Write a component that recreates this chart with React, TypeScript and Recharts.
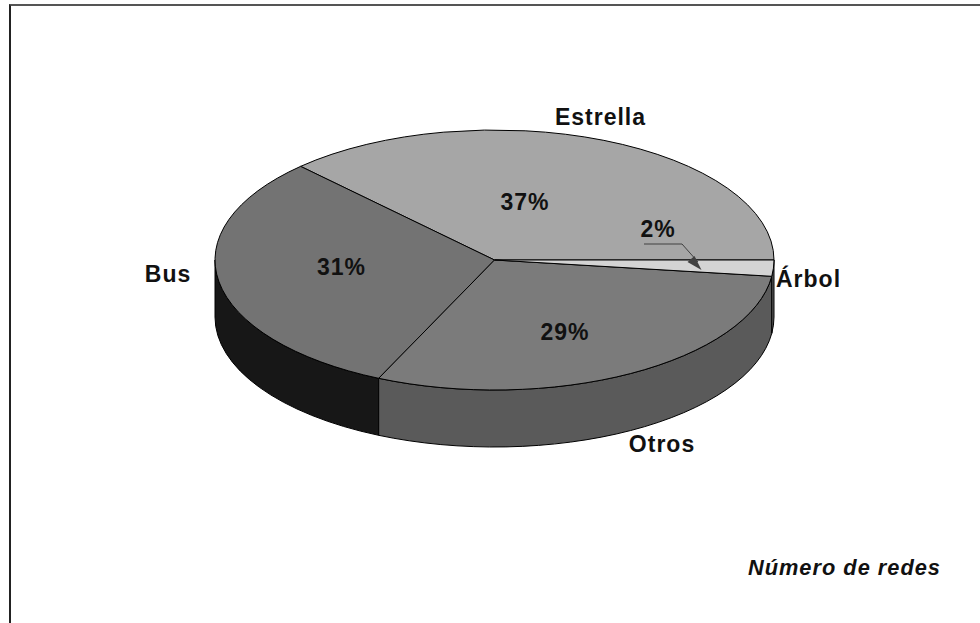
import React from "react";
import { PieChart, Pie } from "recharts";

const categories = ["Estrella", "Bus", "Otros", "Árbol"];
const shares = [37.2, 31.0, 29.8, 2.0];
const percentLabels = ["37%", "31%", "29%", "2%"];
const topColors = ["#a6a6a6", "#737373", "#7b7b7b", "#d4d4d4"];
const wallColors = ["#535353", "#171717", "#5a5a5a", "#5a5a5a"];
const caption = "Número de redes";

const WIDTH = 980;
const HEIGHT = 623;
const CX = 494.5;
const CY = 260;
const RX = 279.5;
const TILT = 130 / 279.5;
const DEPTH = 57;
const FONT = '"Liberation Sans", Arial, sans-serif';

// offsets of labels from the pie centre
const percentOffsets = [[30.5, -58], [-153, 7], [70.5, 72], [163.5, -31]];
const nameOffsets = [[106, -143.5], [-326.5, 14], [167.5, 184], [314, 19]];

const data = categories.map((name, i) => ({
  name,
  value: shares[i],
  fill: topColors[i],
  wall: wallColors[i],
}));

const rad = (a: number) => (a * Math.PI) / 180;

function Slice(props: any) {
  const { cx, cy, outerRadius, startAngle, endAngle, fill, wall } = props;
  const rx = outerRadius;
  const ry = outerRadius * TILT;
  const pt = (a: number, dy = 0) =>
    `${cx + rx * Math.cos(rad(a))} ${cy - ry * Math.sin(rad(a)) + dy}`;
  const lo = Math.min(startAngle, endAngle);
  const hi = Math.max(startAngle, endAngle);
  const large = hi - lo > 180 ? 1 : 0;
  const top = `M ${cx} ${cy} L ${pt(lo)} A ${rx} ${ry} 0 ${large} 0 ${pt(hi)} Z`;
  const wa = Math.max(lo, 180);
  const wb = Math.min(hi, 360);
  const side =
    wb > wa
      ? `M ${pt(wa)} A ${rx} ${ry} 0 0 0 ${pt(wb)} L ${pt(wb, DEPTH)} A ${rx} ${ry} 0 0 1 ${pt(wa, DEPTH)} Z`
      : null;
  return (
    <g>
      {side && <path d={side} fill={wall} stroke="#000" strokeWidth={1} />}
      <path d={top} fill={fill} stroke="#000" strokeWidth={1} />
    </g>
  );
}

function SliceLabel(props: any) {
  const { cx, cy, index, name } = props;
  const [px, py] = percentOffsets[index];
  const [nx, ny] = nameOffsets[index];
  const common = {
    fontFamily: FONT,
    fontWeight: 700,
    fontSize: 23,
    fill: "#111",
    textAnchor: "middle" as const,
    dominantBaseline: "central" as const,
    style: { letterSpacing: "1px" },
  };
  const isCallout = name === "Árbol";
  return (
    <g>
      {isCallout && (
        <g>
          <polyline
            points={`${cx + px - 14},${cy + py + 15} ${cx + px + 24},${cy + py + 15} ${cx + px + 40},${cy + py + 33}`}
            fill="none"
            stroke="#404040"
            strokeWidth={1}
          />
          <polygon
            points={`${cx + 207},${cy + 10} ${cx + 193},${cy + 2} ${cx + 200},${cy - 4}`}
            fill="#404040"
          />
        </g>
      )}
      <text x={cx + px} y={cy + py} {...common}>
        {percentLabels[index]}
      </text>
      <text x={cx + nx} y={cy + ny} {...common}>
        {name}
      </text>
    </g>
  );
}

export default function App() {
  return (
    <div style={{ position: "absolute", left: 0, top: 0, width: WIDTH, height: HEIGHT, background: "#fff", overflow: "hidden" }}>
      <div
        style={{
          position: "absolute",
          left: 9,
          top: 4,
          width: WIDTH,
          height: HEIGHT,
          borderLeft: "2px solid #222",
          borderTop: "2px solid #555",
        }}
      />
      <div style={{ position: "absolute", left: 0, top: 0 }}>
        <PieChart width={WIDTH} height={HEIGHT} margin={{ top: 0, right: 0, bottom: 0, left: 0 }}>
          <Pie
            data={data}
            dataKey="value"
            nameKey="name"
            cx={CX}
            cy={CY}
            innerRadius={0}
            outerRadius={RX}
            startAngle={0}
            endAngle={360}
            paddingAngle={0}
            isAnimationActive={false}
            shape={Slice}
            label={SliceLabel}
            labelLine={false}
            stroke="#000"
          />
        </PieChart>
      </div>
      <div
        style={{
          position: "absolute",
          right: 39,
          top: 555,
          fontFamily: FONT,
          fontWeight: 700,
          fontStyle: "italic",
          fontSize: 21.8,
          letterSpacing: "1px",
          color: "#111",
          whiteSpace: "nowrap",
        }}
      >
        {caption}
      </div>
    </div>
  );
}
